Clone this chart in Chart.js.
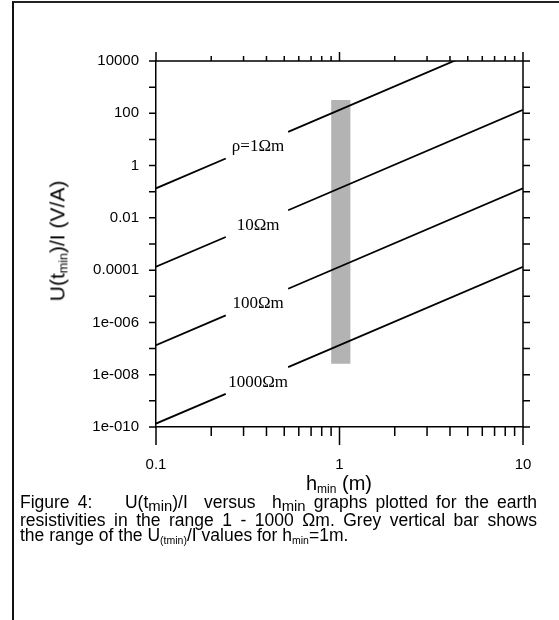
<!DOCTYPE html>
<html>
<head>
<meta charset="utf-8">
<script src="https://cdn.jsdelivr.net/npm/chart.js@4/dist/chart.umd.min.js"></script>
<style>
  body { margin: 0; background: #fff; width: 559px; height: 620px; position: relative; overflow: hidden; font-family: "Liberation Sans", Arial, sans-serif; color: #000; }
  #frame { position: absolute; left: 12px; top: 1px; width: 547px; height: 619px; border-left: 2px solid #111; border-top: 2px solid #222; }
  #c { position: absolute; left: 0; top: 0; }
  .t { position: absolute; white-space: nowrap; }
  sub { font-size: 0.6em; vertical-align: -0.25em; }
  .cap { font-size: 17.5px; line-height: 17px; left: 20px; }
  .cap.j { width: 517px; text-align: justify; text-align-last: justify; white-space: normal; }
  .cap .lo { font-size: 0.85em; vertical-align: -0.2em; }
</style>
</head>
<body>
<div id="frame"></div>
<canvas id="c" width="559" height="480"></canvas>
<div class="t" id="ytitle" style="font-size:21px; left:58px; top:241px; transform: translate(-50%,-50%) rotate(-90deg);">U(t<sub>min</sub>)/I (V/A)</div>
<div class="t" id="xtitle" style="font-size:20px; left:339px; top:484px; transform: translate(-50%,-50%);">h<sub>min</sub> (m)</div>
<div class="t cap j" style="top:494px;">Figure 4:&nbsp;&nbsp;&nbsp; U(t<span class="lo">min</span>)/I&nbsp; versus&nbsp; h<span class="lo">min</span> graphs plotted for the earth</div>
<div class="t cap j" style="top:512px;">resistivities in the range 1 - 1000 Ωm. Grey vertical bar shows</div>
<div class="t cap" style="top:527px;">the range of the U<sub>(tmin)</sub>/I values for h<sub>min</sub>=1m.</div>
<script>
// h_min (m) positions along each line; null marks the gap where the label sits
var hValues = [0.1, 0.24, 0.36, 0.525, 10]
var rho1 = [0.135, 1.86, null, 19.5, 135000]
var rho10 = [1.35e-4, 1.86e-3, null, 1.95e-2, 135]
var rho100 = [1.35e-7, 1.86e-6, null, 1.95e-5, 0.135]
var rho1000 = [1.35e-10, 1.86e-9, null, 1.95e-8, 1.35e-4]

var lineNames = ['ρ=1Ωm', '10Ωm', '100Ωm', '1000Ωm']
var labelH = 0.36
var labelU = [5.2, 5.2e-3, 5.2e-6, 5.2e-9]

// grey bar: range of U/I at h_min = 1 m
var barH = [0.9, 1.15]
var barU = [2.6e-8, 320]

var xTicks = [0.1, 0.2, 0.3, 0.4, 0.5, 0.6, 0.7, 0.8, 0.9, 1, 2, 3, 4, 5, 6, 7, 8, 9, 10]
var xMajor = [0.1, 1, 10]
var xLabels = ['0.1', '1', '10']
var yTicks = [1e-10, 1e-9, 1e-8, 1e-7, 1e-6, 1e-5, 1e-4, 1e-3, 1e-2, 1e-1, 1, 10, 100, 1000, 1e4]
var yLabels = ['1e-010', '', '1e-008', '', '1e-006', '', '0.0001', '', '0.01', '', '1', '', '100', '', '10000']

function pts(vals) {
    return hValues.map(function (h, i) { return { x: h, y: vals[i] } })
}

var lineStyle = { borderColor: '#000', borderWidth: 1.8, pointRadius: 0, spanGaps: false, fill: false, tension: 0 }

var datasets = [rho1, rho10, rho100, rho1000].map(function (s, i) {
    return Object.assign({ label: lineNames[i], data: pts(s) }, lineStyle)
})
datasets.push({
    label: 'range',
    data: [{ x: barH[0], y: barU[1] }, { x: barH[1], y: barU[1] }],
    borderWidth: 0,
    pointRadius: 0,
    backgroundColor: '#b3b3b3',
    fill: { value: barU[0] }
})

var decor = {
    id: 'decor',
    afterDatasetsDraw: function (chart) {
        var ctx = chart.ctx, a = chart.chartArea, x = chart.scales.x, y = chart.scales.y
        ctx.save()
        ctx.strokeStyle = '#000'
        ctx.lineWidth = 1.5
        ctx.beginPath()
        ctx.moveTo(a.left, a.top); ctx.lineTo(a.right, a.top); ctx.lineTo(a.right, a.bottom)
        xTicks.forEach(function (v) {
            var px = x.getPixelForValue(v)
            var major = xMajor.indexOf(v) >= 0
            ctx.moveTo(px, a.bottom); ctx.lineTo(px, a.bottom + (major ? 18 : 9))
            ctx.moveTo(px, a.top); ctx.lineTo(px, a.top - (major ? 9 : 5))
        })
        yTicks.forEach(function (v) {
            var py = y.getPixelForValue(v)
            ctx.moveTo(a.left - 7, py); ctx.lineTo(a.left, py)
            ctx.moveTo(a.right, py); ctx.lineTo(a.right + 7, py)
        })
        ctx.stroke()
        ctx.fillStyle = '#000'
        ctx.font = '17px "Liberation Serif", "Times New Roman", serif'
        ctx.textAlign = 'center'
        ctx.textBaseline = 'middle'
        lineNames.forEach(function (t, i) {
            ctx.fillText(t, x.getPixelForValue(labelH), y.getPixelForValue(labelU[i]))
        })
        ctx.restore()
    }
}

var font = { family: '"Liberation Sans", Arial, sans-serif', size: 15 }

new Chart(document.getElementById('c'), {
    type: 'line',
    data: { datasets: datasets },
    options: {
        responsive: false,
        animation: false,
        events: [],
        layout: { padding: { top: 61, right: 36, left: 0, bottom: 0 } },
        plugins: { legend: { display: false }, tooltip: { enabled: false } },
        scales: {
            x: {
                type: 'logarithmic',
                position: 'bottom',
                min: 0.1,
                max: 10,
                afterBuildTicks: function (s) { s.ticks = xMajor.map(function (v) { return { value: v } }) },
                afterFit: function (s) { s.height = 53 },
                ticks: {
                    font: font, color: '#000', padding: 3, maxRotation: 0, autoSkip: false,
                    callback: function (v, i) { return xLabels[i] }
                },
                grid: { drawOnChartArea: false, drawTicks: true, tickLength: 26, tickColor: 'rgba(0,0,0,0)' },
                border: { display: true, color: '#000', width: 1.5 }
            },
            y: {
                type: 'logarithmic',
                position: 'left',
                min: 1e-10,
                max: 1e4,
                afterBuildTicks: function (s) { s.ticks = yTicks.map(function (v) { return { value: v } }) },
                afterFit: function (s) { s.width = 156 },
                ticks: {
                    font: font, color: '#000', padding: 3, autoSkip: false,
                    callback: function (v, i) { return yLabels[i] }
                },
                grid: { drawOnChartArea: false, drawTicks: true, tickLength: 14, tickColor: 'rgba(0,0,0,0)' },
                border: { display: true, color: '#000', width: 1.5 }
            }
        }
    },
    plugins: [decor]
})
</script>
</body>
</html>
